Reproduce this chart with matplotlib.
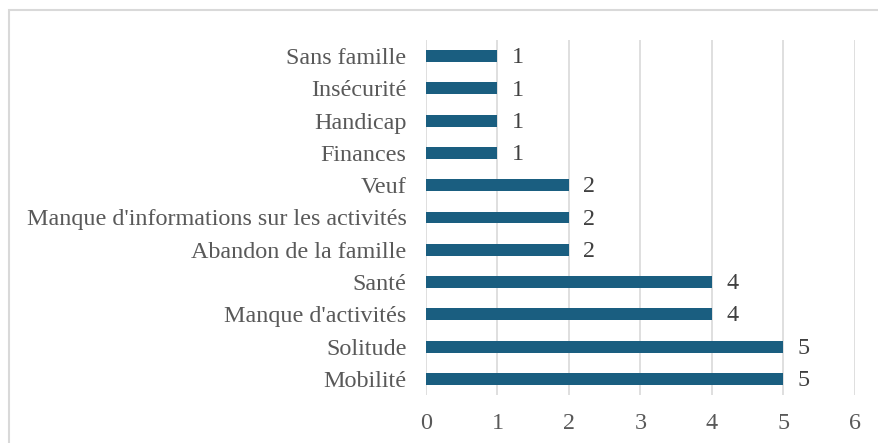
import matplotlib.pyplot as plt
from matplotlib.patches import Rectangle

# categories from bottom to top
categories = ["Mobilité", "Solitude", "Manque d'activités", "Santé",
              "Abandon de la famille", "Manque d'informations sur les activités",
              "Veuf", "Finances", "Handicap", "Insécurité", "Sans famille"]
values = [5, 5, 4, 4, 2, 2, 2, 1, 1, 1, 1]
xticks = [0, 1, 2, 3, 4, 5, 6]

plt.rcParams['font.family'] = ['Liberation Serif', 'DejaVu Serif']

W, H = 879, 443
fig = plt.figure(figsize=(W / 100, H / 100), dpi=100)
ax = fig.add_axes([426 / W, 1 - 395 / H, (855 - 426) / W, (395 - 40) / H])

bar_color = '#1A5E80'
ypos = list(range(len(categories)))
ax.barh(ypos, values, height=0.37, color=bar_color, zorder=3)

for y, v in zip(ypos, values):
    ax.text(v + 0.2, y - 0.05, str(v), va='center', ha='left', fontsize=17.4, color='#404040')

ax.set_xlim(0, 6)
ax.set_ylim(-0.5, len(categories) - 0.5)
ax.set_xticks(xticks)
ax.set_xticklabels([str(t) for t in xticks])
ax.set_yticks(ypos)
ax.set_yticklabels(categories)
ax.tick_params(axis='both', length=0, labelsize=17.4, colors='#595959')
ax.tick_params(axis='y', pad=14)
ax.tick_params(axis='x', pad=13)
ax.grid(axis='x', color='#D9D9D9', linewidth=1.2, zorder=0)
for s in ax.spines.values():
    s.set_visible(False)

# chart border (cut off at right and bottom)
fig.patches.append(Rectangle((9 / W, -0.1), 1.1, 1 - 10 / H + 0.1, transform=fig.transFigure,
                             fill=False, edgecolor='#D9D9D9', linewidth=1.5))

fig.savefig('out.png', dpi=100)
